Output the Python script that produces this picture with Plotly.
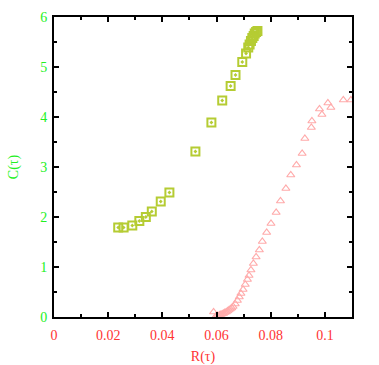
import plotly.graph_objects as go

green_x = [0.0237, 0.0257, 0.0289, 0.0315, 0.0339, 0.0361, 0.0394, 0.0426, 0.0522, 0.0581,
           0.0621, 0.0652, 0.0670, 0.0695, 0.0709, 0.0717, 0.0722, 0.0727, 0.0732, 0.0737,
           0.0741, 0.0746, 0.0751]
green_y = [1.79, 1.79, 1.83, 1.92, 2.00, 2.11, 2.31, 2.49, 3.31, 3.89,
           4.33, 4.62, 4.84, 5.10, 5.27, 5.39, 5.45, 5.52, 5.58, 5.62,
           5.67, 5.70, 5.72]

pink_x = [0.0589, 0.0598, 0.0604, 0.0611, 0.0616, 0.0621, 0.0626, 0.0631, 0.0636, 0.0641,
          0.0646, 0.0651, 0.0656, 0.0661, 0.0669, 0.0677, 0.0684, 0.0690, 0.0698, 0.0706,
          0.0714, 0.0720, 0.0727, 0.0736, 0.0746, 0.0758, 0.0769, 0.0785, 0.0801, 0.0820,
          0.0836, 0.0856, 0.0874, 0.0895, 0.0916, 0.0926, 0.0950, 0.0952, 0.0980, 0.0989,
          0.1011, 0.1022, 0.1068, 0.1096]
pink_y = [0.10, 0.02, 0.03, 0.04, 0.05, 0.06, 0.07, 0.09, 0.10, 0.12,
          0.14, 0.16, 0.18, 0.21, 0.26, 0.33, 0.40, 0.47, 0.55, 0.65,
          0.75, 0.83, 0.94, 1.07, 1.20, 1.34, 1.51, 1.69, 1.87, 2.09,
          2.32, 2.57, 2.84, 3.04, 3.27, 3.57, 3.79, 3.92, 4.16, 4.05,
          4.28, 4.19, 4.34, 4.34]

x_ticks = [0, 0.02, 0.04, 0.06, 0.08, 0.1]
x_labels = ["0", "0.02", "0.04", "0.06", "0.08", "0.1"]
y_ticks = [0, 1, 2, 3, 4, 5, 6]

fig = go.Figure()
fig.add_trace(go.Scatter(
    x=green_x, y=green_y, mode="markers",
    marker=dict(symbol="square-open-dot", size=8, color="#b5cc33", line=dict(width=2)),
    showlegend=False))
fig.add_trace(go.Scatter(
    x=pink_x, y=pink_y, mode="markers",
    marker=dict(symbol="triangle-up-open", size=7, color="#ffaaaa", line=dict(width=1.2)),
    showlegend=False))

font = "Liberation Serif, Times New Roman, serif"
green = "#22f022"
red = "#ff3333"
fig.update_layout(
    width=379, height=365,
    margin=dict(l=54, r=27, t=17, b=48, autoexpand=False),
    paper_bgcolor="white", plot_bgcolor="white",
    font=dict(family=font, size=14),
    xaxis=dict(
        range=[0, 0.11], tickvals=x_ticks, ticktext=x_labels,
        showgrid=False, zeroline=False, showline=True, linecolor="#000000", linewidth=2,
        mirror="ticks", ticks="inside", ticklen=5, tickwidth=2, tickcolor="#000000",
        minor=dict(ticks="inside", dtick=0.01, ticklen=3, tickwidth=1.5, tickcolor="#000000"),
        tickfont=dict(color=red, size=14, family=font), ticklabelstandoff=4,
        title=dict(text="R(τ)", font=dict(color=red, size=14, family=font), standoff=11),
    ),
    yaxis=dict(
        range=[0, 6], tickvals=y_ticks,
        showgrid=False, zeroline=False, showline=True, linecolor="#000000", linewidth=2,
        mirror="ticks", ticks="inside", ticklen=5, tickwidth=2, tickcolor="#000000",
        minor=dict(ticks="inside", dtick=0.5, ticklen=3, tickwidth=1.5, tickcolor="#000000"),
        tickfont=dict(color=green, size=14, family=font), ticklabelstandoff=2,
        title=dict(text="C(τ)", font=dict(color=green, size=14, family=font), standoff=18),
    ),
)
fig.write_html("out.html", config={"displayModeBar": False},
               post_script="document.body.style.margin='0px';")
